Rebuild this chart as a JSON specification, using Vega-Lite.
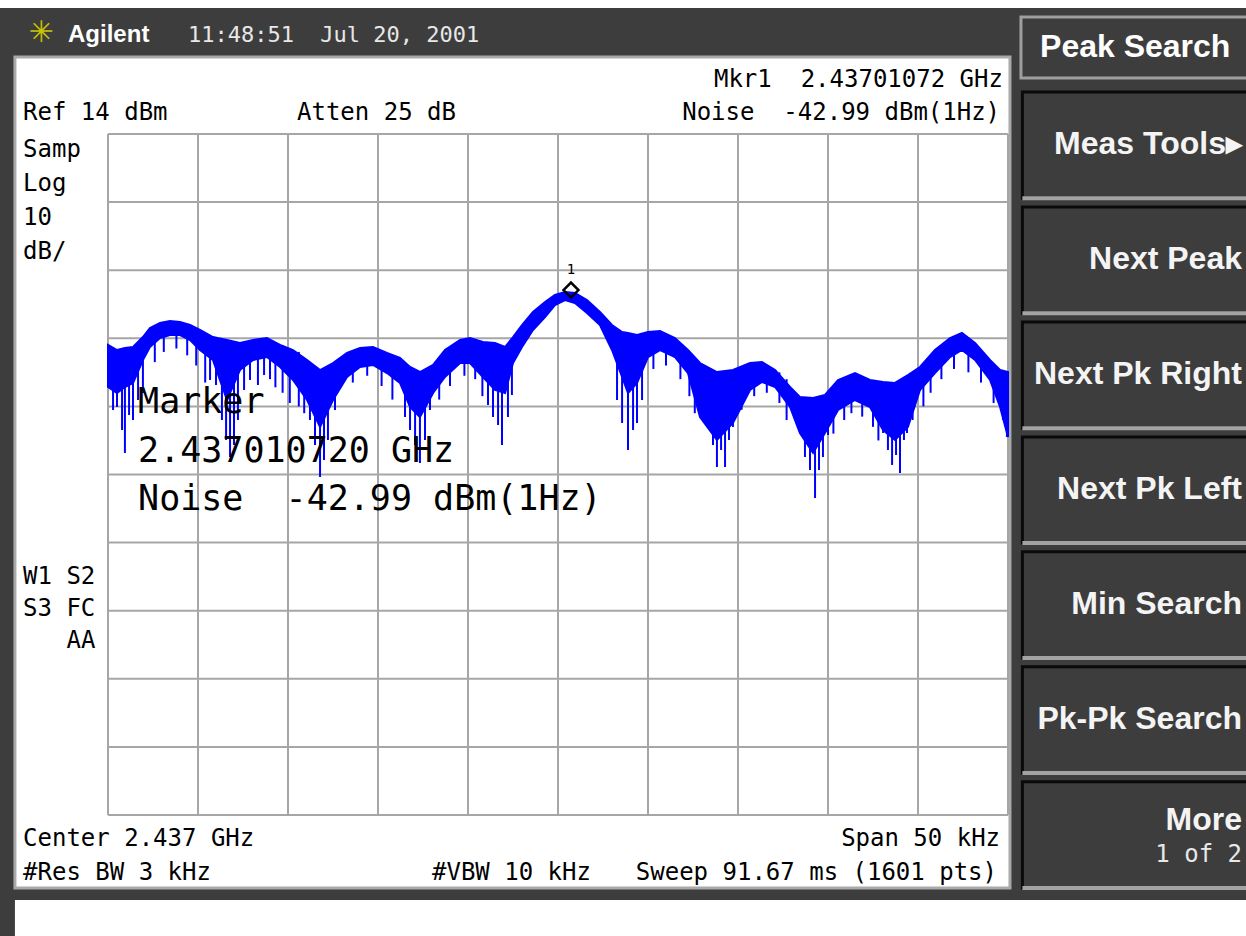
{
  "$schema": "https://vega.github.io/schema/vega-lite/v6.json",
  "width": 1246,
  "height": 936,
  "autosize": {"type": "none"},
  "padding": 0,
  "background": "#3d3d3d",
  "config": {
    "view": {"stroke": null},
    "axis": {"disable": true},
    "text": {"font": "DejaVu Sans Mono", "fontSize": 24, "color": "#000000", "baseline": "alphabetic", "align": "left"}
  },
  "datasets": {
    "gridx": [{"f": -25}, {"f": -20}, {"f": -15}, {"f": -10}, {"f": -5}, {"f": 0}, {"f": 5}, {"f": 10}, {"f": 15}, {"f": 20}, {"f": 25}],
    "gridy": [{"db": 14}, {"db": 4}, {"db": -6}, {"db": -16}, {"db": -26}, {"db": -36}, {"db": -46}, {"db": -56}, {"db": -66}, {"db": -76}, {"db": -86}],
    "trace": [
      {"f": -25, "hi": -16.98, "lo": -23.15},
      {"f": -24.5, "hi": -17.72, "lo": -24.03},
      {"f": -24.06, "hi": -17.42, "lo": -23.15},
      {"f": -23.61, "hi": -17.28, "lo": -22.56},
      {"f": -23.06, "hi": -15.81, "lo": -19.19},
      {"f": -22.67, "hi": -14.49, "lo": -17.28},
      {"f": -22.11, "hi": -13.75, "lo": -15.96},
      {"f": -21.56, "hi": -13.46, "lo": -15.52},
      {"f": -21, "hi": -13.61, "lo": -15.52},
      {"f": -20.44, "hi": -14.05, "lo": -16.25},
      {"f": -19.89, "hi": -14.78, "lo": -17.72},
      {"f": -19.17, "hi": -15.81, "lo": -19.19},
      {"f": -18.39, "hi": -16.25, "lo": -25.06},
      {"f": -17.67, "hi": -16.69, "lo": -20.66},
      {"f": -16.94, "hi": -16.25, "lo": -19.19},
      {"f": -16.17, "hi": -15.96, "lo": -18.75},
      {"f": -15.44, "hi": -16.98, "lo": -20.21},
      {"f": -14.72, "hi": -17.72, "lo": -22.12},
      {"f": -13.94, "hi": -19.19, "lo": -25.06},
      {"f": -13.22, "hi": -20.66, "lo": -29.02},
      {"f": -12.5, "hi": -19.63, "lo": -25.06},
      {"f": -11.72, "hi": -18.16, "lo": -21.68},
      {"f": -11, "hi": -17.42, "lo": -20.21},
      {"f": -10.28, "hi": -17.28, "lo": -19.92},
      {"f": -9.5, "hi": -18.16, "lo": -21.1},
      {"f": -8.78, "hi": -18.89, "lo": -22.56},
      {"f": -8.22, "hi": -20.21, "lo": -26.09},
      {"f": -7.67, "hi": -20.95, "lo": -27.56},
      {"f": -6.94, "hi": -19.92, "lo": -24.03},
      {"f": -6.28, "hi": -17.72, "lo": -21.68},
      {"f": -5.44, "hi": -16.25, "lo": -19.63},
      {"f": -4.89, "hi": -15.96, "lo": -19.63},
      {"f": -4.17, "hi": -16.54, "lo": -21.68},
      {"f": -3.5, "hi": -16.69, "lo": -23.59},
      {"f": -2.94, "hi": -17.28, "lo": -24.03},
      {"f": -2.5, "hi": -15.81, "lo": -19.63},
      {"f": -2, "hi": -14.05, "lo": -17.28},
      {"f": -1.39, "hi": -12.14, "lo": -14.78},
      {"f": -0.72, "hi": -10.67, "lo": -12.87},
      {"f": -0.17, "hi": -9.64, "lo": -11.11},
      {"f": 0.39, "hi": -9.2, "lo": -10.38},
      {"f": 0.94, "hi": -9.35, "lo": -10.82},
      {"f": 1.61, "hi": -10.38, "lo": -12.28},
      {"f": 2.33, "hi": -12.14, "lo": -14.05},
      {"f": 3, "hi": -14.05, "lo": -17.72},
      {"f": 3.56, "hi": -15.07, "lo": -21.68},
      {"f": 3.89, "hi": -15.22, "lo": -24.03},
      {"f": 4.39, "hi": -15.52, "lo": -22.56},
      {"f": 5, "hi": -15.07, "lo": -18.75},
      {"f": 5.67, "hi": -14.93, "lo": -17.72},
      {"f": 6.5, "hi": -15.96, "lo": -18.75},
      {"f": 7.22, "hi": -17.72, "lo": -21.1},
      {"f": 7.89, "hi": -19.63, "lo": -27.56},
      {"f": 8.83, "hi": -20.95, "lo": -30.93},
      {"f": 9.72, "hi": -20.66, "lo": -28.44},
      {"f": 10.67, "hi": -19.63, "lo": -23.59},
      {"f": 11.33, "hi": -19.48, "lo": -22.42},
      {"f": 12.06, "hi": -20.66, "lo": -23.15},
      {"f": 12.89, "hi": -23.15, "lo": -26.09},
      {"f": 13.44, "hi": -24.62, "lo": -29.91},
      {"f": 14.17, "hi": -24.77, "lo": -32.84},
      {"f": 14.83, "hi": -24.33, "lo": -29.91},
      {"f": 15.56, "hi": -22.12, "lo": -26.53},
      {"f": 16.5, "hi": -21.1, "lo": -25.06},
      {"f": 17.33, "hi": -22.12, "lo": -26.09},
      {"f": 18.06, "hi": -22.42, "lo": -29.47},
      {"f": 18.72, "hi": -22.56, "lo": -30.93},
      {"f": 19.44, "hi": -21.39, "lo": -29.02},
      {"f": 20.11, "hi": -20.21, "lo": -23.59},
      {"f": 20.94, "hi": -17.72, "lo": -21.1},
      {"f": 21.78, "hi": -15.96, "lo": -18.75},
      {"f": 22.44, "hi": -15.22, "lo": -17.72},
      {"f": 23.17, "hi": -16.69, "lo": -19.19},
      {"f": 24, "hi": -19.19, "lo": -22.12},
      {"f": 24.56, "hi": -20.66, "lo": -26.09},
      {"f": 25, "hi": -20.95, "lo": -30.49}
    ],
    "spikes": [
      {"f": -24.72, "top": -21, "bot": -26.53},
      {"f": -24.5, "top": -21, "bot": -26.09},
      {"f": -24.22, "top": -21, "bot": -29.47},
      {"f": -24.06, "top": -21, "bot": -32.84},
      {"f": -23.83, "top": -21, "bot": -27.26},
      {"f": -23.61, "top": -21, "bot": -28.0},
      {"f": -23.33, "top": -20, "bot": -25.06},
      {"f": -23.06, "top": -18, "bot": -24.03},
      {"f": -22.4, "top": -16, "bot": -19.5},
      {"f": -21.9, "top": -15, "bot": -18.0},
      {"f": -21.2, "top": -15, "bot": -17.5},
      {"f": -20.6, "top": -15, "bot": -18.5},
      {"f": -20.1, "top": -16, "bot": -20.0},
      {"f": -19.6, "top": -17, "bot": -22.5},
      {"f": -19.33, "top": -18, "bot": -22.12},
      {"f": -19.0, "top": -18, "bot": -22.86},
      {"f": -18.67, "top": -18, "bot": -28.0},
      {"f": -18.44, "top": -18, "bot": -30.93},
      {"f": -18.22, "top": -18, "bot": -33.43},
      {"f": -18.0, "top": -18, "bot": -31.67},
      {"f": -17.78, "top": -18, "bot": -28.0},
      {"f": -17.44, "top": -18, "bot": -23.59},
      {"f": -17.11, "top": -18, "bot": -22.12},
      {"f": -16.67, "top": -18, "bot": -22.86},
      {"f": -16.33, "top": -18, "bot": -21.39},
      {"f": -16.0, "top": -17, "bot": -22.0},
      {"f": -15.7, "top": -17, "bot": -23.2},
      {"f": -15.3, "top": -17, "bot": -24.0},
      {"f": -14.9, "top": -18, "bot": -25.5},
      {"f": -14.4, "top": -18, "bot": -26.0},
      {"f": -14.1, "top": -19, "bot": -27.0},
      {"f": -13.78, "top": -22, "bot": -28.0},
      {"f": -13.5, "top": -22, "bot": -31.67},
      {"f": -13.22, "top": -22, "bot": -36.37},
      {"f": -13.0, "top": -22, "bot": -33.87},
      {"f": -12.78, "top": -22, "bot": -30.93},
      {"f": -12.39, "top": -22, "bot": -26.53},
      {"f": -11.4, "top": -19, "bot": -22.5},
      {"f": -10.6, "top": -18, "bot": -21.5},
      {"f": -9.8, "top": -18, "bot": -23.0},
      {"f": -9.2, "top": -19, "bot": -25.0},
      {"f": -8.5, "top": -22, "bot": -27.56},
      {"f": -8.22, "top": -22, "bot": -29.47},
      {"f": -7.94, "top": -22, "bot": -31.67},
      {"f": -7.67, "top": -22, "bot": -34.31},
      {"f": -7.39, "top": -22, "bot": -30.93},
      {"f": -7.11, "top": -22, "bot": -26.53},
      {"f": -6.6, "top": -20, "bot": -25.0},
      {"f": -6.0, "top": -18, "bot": -23.0},
      {"f": -5.2, "top": -17, "bot": -21.5},
      {"f": -4.6, "top": -17, "bot": -22.0},
      {"f": -4.2, "top": -17, "bot": -24.5},
      {"f": -3.89, "top": -20, "bot": -25.79},
      {"f": -3.61, "top": -20, "bot": -27.56},
      {"f": -3.33, "top": -20, "bot": -28.73},
      {"f": -3.11, "top": -20, "bot": -31.67},
      {"f": -2.78, "top": -20, "bot": -27.56},
      {"f": -2.56, "top": -20, "bot": -24.33},
      {"f": 3.28, "top": -18, "bot": -25.06},
      {"f": 3.56, "top": -18, "bot": -28.44},
      {"f": 3.89, "top": -18, "bot": -32.4},
      {"f": 4.17, "top": -18, "bot": -29.47},
      {"f": 4.39, "top": -18, "bot": -28.44},
      {"f": 4.67, "top": -18, "bot": -25.06},
      {"f": 5.3, "top": -16, "bot": -20.5},
      {"f": 6.0, "top": -16, "bot": -20.0},
      {"f": 6.8, "top": -17, "bot": -22.0},
      {"f": 7.3, "top": -18, "bot": -24.5},
      {"f": 7.6, "top": -19, "bot": -27.0},
      {"f": 8.33, "top": -24, "bot": -29.02},
      {"f": 8.61, "top": -24, "bot": -31.67},
      {"f": 8.83, "top": -24, "bot": -34.9},
      {"f": 9.06, "top": -24, "bot": -32.4},
      {"f": 9.28, "top": -24, "bot": -34.9},
      {"f": 9.5, "top": -24, "bot": -30.93},
      {"f": 9.72, "top": -24, "bot": -29.02},
      {"f": 10.2, "top": -21, "bot": -26.5},
      {"f": 10.9, "top": -21, "bot": -24.5},
      {"f": 11.6, "top": -21, "bot": -24.0},
      {"f": 12.3, "top": -21, "bot": -25.5},
      {"f": 12.7, "top": -22, "bot": -28.0},
      {"f": 13.44, "top": -27, "bot": -29.47},
      {"f": 13.72, "top": -27, "bot": -33.43},
      {"f": 14.0, "top": -27, "bot": -35.34},
      {"f": 14.28, "top": -27, "bot": -39.45},
      {"f": 14.5, "top": -27, "bot": -35.34},
      {"f": 14.72, "top": -27, "bot": -33.43},
      {"f": 15.0, "top": -27, "bot": -30.2},
      {"f": 15.3, "top": -24, "bot": -30.0},
      {"f": 15.9, "top": -23, "bot": -28.0},
      {"f": 16.3, "top": -23, "bot": -27.0},
      {"f": 16.9, "top": -23, "bot": -27.5},
      {"f": 17.5, "top": -23, "bot": -29.0},
      {"f": 17.8, "top": -24, "bot": -31.0},
      {"f": 18.06, "top": -26, "bot": -29.91},
      {"f": 18.33, "top": -26, "bot": -32.4},
      {"f": 18.56, "top": -26, "bot": -34.6},
      {"f": 18.78, "top": -26, "bot": -33.14},
      {"f": 19.0, "top": -26, "bot": -35.78},
      {"f": 19.22, "top": -26, "bot": -30.93},
      {"f": 19.39, "top": -26, "bot": -29.91},
      {"f": 19.7, "top": -23, "bot": -28.0},
      {"f": 20.3, "top": -21, "bot": -26.0},
      {"f": 20.7, "top": -20, "bot": -24.0},
      {"f": 21.3, "top": -18, "bot": -22.0},
      {"f": 22.0, "top": -17, "bot": -20.5},
      {"f": 22.8, "top": -17, "bot": -21.0},
      {"f": 23.5, "top": -18, "bot": -22.5},
      {"f": 24.2, "top": -20, "bot": -25.5},
      {"f": 24.72, "top": -22, "bot": -28.0},
      {"f": 24.94, "top": -22, "bot": -30.49}
    ],
    "buttons": [
      {"label": "Meas Tools▸"},
      {"label": "Next Peak"},
      {"label": "Next Pk Right"},
      {"label": "Next Pk Left"},
      {"label": "Min Search"},
      {"label": "Pk-Pk Search"},
      {"label": "More", "sub": "1 of 2"}
    ]
  },
  "data": {"values": [{}]},
  "layer": [
    {
      "layer": [
        {
          "mark": {"type": "rect", "fill": "#ffffff"},
          "encoding": {
            "x": {"datum": -31, "type": "quantitative", "scale": {"domain": [-31, 38.2222], "nice": false, "zero": false}},
            "x2": {"datum": 38.6},
            "y": {"datum": 34, "type": "quantitative", "scale": {"domain": [-103.768, 33.677], "nice": false, "zero": false}},
            "y2": {"datum": 32.5}
          }
        },
        {
          "mark": {"type": "rect", "fill": "#ffffff"},
          "encoding": {
            "x": {"datum": -30.17, "type": "quantitative"},
            "x2": {"datum": 38.6},
            "y": {"datum": -98.48, "type": "quantitative"},
            "y2": {"datum": -104.5}
          }
        },
        {
          "mark": {"type": "rect", "fill": "#ffffff", "stroke": "#a9a9a9", "strokeWidth": 3},
          "encoding": {
            "x": {"datum": -30.17, "type": "quantitative"},
            "x2": {"datum": 25.11},
            "y": {"datum": 25.31, "type": "quantitative"},
            "y2": {"datum": -96.72}
          }
        },
        {
          "mark": {"type": "rect", "fill": "#3d3d3d", "stroke": "#9e9e9e", "strokeWidth": 3},
          "encoding": {
            "x": {"datum": 25.72, "type": "quantitative"},
            "x2": {"datum": 39.5},
            "y": {"datum": 31.18, "type": "quantitative"},
            "y2": {"datum": 22.22}
          }
        },
        {
          "data": {"name": "gridx"},
          "mark": {"type": "rule", "stroke": "#a6a6a6", "strokeWidth": 2},
          "encoding": {
            "x": {"field": "f", "type": "quantitative"},
            "y": {"datum": 14, "type": "quantitative"},
            "y2": {"datum": -86}
          }
        },
        {
          "data": {"name": "gridy"},
          "mark": {"type": "rule", "stroke": "#a6a6a6", "strokeWidth": 2},
          "encoding": {
            "y": {"field": "db", "type": "quantitative"},
            "x": {"datum": -25, "type": "quantitative"},
            "x2": {"datum": 25}
          }
        },
        {
          "data": {"name": "trace"},
          "mark": {"type": "area", "color": "#0000ff", "stroke": "#0000ff", "strokeWidth": 2, "opacity": 1},
          "encoding": {
            "x": {"field": "f", "type": "quantitative"},
            "y": {"field": "hi", "type": "quantitative"},
            "y2": {"field": "lo"}
          }
        },
        {
          "data": {"name": "spikes"},
          "mark": {"type": "rule", "stroke": "#0000ff", "strokeWidth": 2},
          "encoding": {
            "x": {"field": "f", "type": "quantitative"},
            "y": {"field": "top", "type": "quantitative"},
            "y2": {"field": "bot"}
          }
        },
        {
          "mark": {"type": "point", "shape": "diamond", "size": 225, "filled": false, "stroke": "#000000", "strokeWidth": 2.5, "opacity": 1},
          "encoding": {
            "x": {"datum": 0.72, "type": "quantitative"},
            "y": {"datum": -8.91, "type": "quantitative"}
          }
        },
        {
          "mark": {"type": "text", "text": "1", "align": "center", "fontSize": 14},
          "encoding": {"x": {"datum": 0.72, "type": "quantitative"}, "y": {"datum": -6.56, "type": "quantitative"}}
        },
        {
          "mark": {"type": "text", "text": "✳", "align": "center", "baseline": "middle", "fontSize": 30, "font": "DejaVu Sans", "color": "#c9c400"},
          "encoding": {"x": {"datum": -28.72, "type": "quantitative"}, "y": {"datum": 28.83, "type": "quantitative"}}
        },
        {
          "mark": {"type": "text", "text": "Agilent", "font": "Liberation Sans", "fontWeight": "bold", "fontSize": 24, "color": "#ffffff"},
          "encoding": {"x": {"datum": -27.22, "type": "quantitative"}, "y": {"datum": 27.51, "type": "quantitative"}}
        },
        {
          "mark": {"type": "text", "text": "11:48:51\u00a0 Jul 20, 2001", "fontSize": 22, "color": "#e8e8e8"},
          "encoding": {"x": {"datum": -20.56, "type": "quantitative"}, "y": {"datum": 27.51, "type": "quantitative"}}
        },
        {
          "mark": {"type": "text", "text": "Peak Search", "font": "Liberation Sans", "fontWeight": "bold", "fontSize": 32, "color": "#ffffff"},
          "encoding": {"x": {"datum": 26.78, "type": "quantitative"}, "y": {"datum": 25.31, "type": "quantitative"}}
        },
        {
          "mark": {"type": "text", "text": "Mkr1\u00a0 2.43701072 GHz", "align": "right"},
          "encoding": {"x": {"datum": 24.72, "type": "quantitative"}, "y": {"datum": 20.9, "type": "quantitative"}}
        },
        {
          "mark": {"type": "text", "text": "Ref 14 dBm"},
          "encoding": {"x": {"datum": -29.72, "type": "quantitative"}, "y": {"datum": 16.06, "type": "quantitative"}}
        },
        {
          "mark": {"type": "text", "text": "Atten 25 dB"},
          "encoding": {"x": {"datum": -14.5, "type": "quantitative"}, "y": {"datum": 16.06, "type": "quantitative"}}
        },
        {
          "mark": {"type": "text", "text": "Noise\u00a0 -42.99 dBm(1Hz)", "align": "right"},
          "encoding": {"x": {"datum": 24.56, "type": "quantitative"}, "y": {"datum": 16.06, "type": "quantitative"}}
        },
        {
          "mark": {"type": "text", "text": "Samp"},
          "encoding": {"x": {"datum": -29.72, "type": "quantitative"}, "y": {"datum": 10.62, "type": "quantitative"}}
        },
        {
          "mark": {"type": "text", "text": "Log"},
          "encoding": {"x": {"datum": -29.72, "type": "quantitative"}, "y": {"datum": 5.63, "type": "quantitative"}}
        },
        {
          "mark": {"type": "text", "text": "10"},
          "encoding": {"x": {"datum": -29.72, "type": "quantitative"}, "y": {"datum": 0.64, "type": "quantitative"}}
        },
        {
          "mark": {"type": "text", "text": "dB/"},
          "encoding": {"x": {"datum": -29.72, "type": "quantitative"}, "y": {"datum": -4.36, "type": "quantitative"}}
        },
        {
          "mark": {"type": "text", "text": "W1 S2"},
          "encoding": {"x": {"datum": -29.72, "type": "quantitative"}, "y": {"datum": -52.08, "type": "quantitative"}}
        },
        {
          "mark": {"type": "text", "text": "S3 FC"},
          "encoding": {"x": {"datum": -29.72, "type": "quantitative"}, "y": {"datum": -56.78, "type": "quantitative"}}
        },
        {
          "mark": {"type": "text", "text": "AA"},
          "encoding": {"x": {"datum": -27.3, "type": "quantitative"}, "y": {"datum": -61.48, "type": "quantitative"}}
        },
        {
          "mark": {"type": "text", "text": "Marker", "fontSize": 35},
          "encoding": {"x": {"datum": -23.33, "type": "quantitative"}, "y": {"datum": -26.97, "type": "quantitative"}}
        },
        {
          "mark": {"type": "text", "text": "2.437010720 GHz", "fontSize": 35},
          "encoding": {"x": {"datum": -23.33, "type": "quantitative"}, "y": {"datum": -34.16, "type": "quantitative"}}
        },
        {
          "mark": {"type": "text", "text": "Noise\u00a0 -42.99 dBm(1Hz)", "fontSize": 35},
          "encoding": {"x": {"datum": -23.33, "type": "quantitative"}, "y": {"datum": -41.21, "type": "quantitative"}}
        },
        {
          "mark": {"type": "text", "text": "Center 2.437 GHz"},
          "encoding": {"x": {"datum": -29.72, "type": "quantitative"}, "y": {"datum": -90.55, "type": "quantitative"}}
        },
        {
          "mark": {"type": "text", "text": "Span 50 kHz", "align": "right"},
          "encoding": {"x": {"datum": 24.56, "type": "quantitative"}, "y": {"datum": -90.55, "type": "quantitative"}}
        },
        {
          "mark": {"type": "text", "text": "#Res BW 3 kHz"},
          "encoding": {"x": {"datum": -29.72, "type": "quantitative"}, "y": {"datum": -95.54, "type": "quantitative"}}
        },
        {
          "mark": {"type": "text", "text": "#VBW 10 kHz"},
          "encoding": {"x": {"datum": -7.0, "type": "quantitative"}, "y": {"datum": -95.54, "type": "quantitative"}}
        },
        {
          "mark": {"type": "text", "text": "Sweep 91.67 ms (1601 pts)", "align": "right"},
          "encoding": {"x": {"datum": 24.39, "type": "quantitative"}, "y": {"datum": -95.54, "type": "quantitative"}}
        }
      ]
    },
    {
      "data": {"name": "buttons"},
      "encoding": {
        "y": {
          "field": "label",
          "type": "nominal",
          "sort": null,
          "scale": {
            "domain": ["Meas Tools▸", "Next Peak", "Next Pk Right", "Next Pk Left", "Min Search", "Pk-Pk Search", "More"],
            "range": [92, 888],
            "paddingInner": 0.076,
            "paddingOuter": 0
          }
        }
      },
      "layer": [
        {
          "mark": {"type": "rect", "fill": "#3d3d3d", "stroke": "#0a0a0a", "strokeWidth": 3},
          "encoding": {"x": {"datum": 25.8, "type": "quantitative"}, "x2": {"datum": 39.5}}
        },
        {
          "mark": {"type": "rule", "stroke": "#a3a3a3", "strokeWidth": 4},
          "encoding": {
            "x": {"datum": 25.8, "type": "quantitative"},
            "x2": {"datum": 39.5},
            "y": {"field": "label", "type": "nominal", "sort": null, "bandPosition": 1}
          }
        },
        {
          "transform": [{"filter": "datum.label !== 'More'"}],
          "mark": {"type": "text", "align": "right", "dy": 9, "font": "Liberation Sans", "fontWeight": "bold", "fontSize": 32, "color": "#f4f4f4"},
          "encoding": {"x": {"datum": 38.0, "type": "quantitative"}, "text": {"field": "label"}}
        },
        {
          "transform": [{"filter": "datum.label === 'More'"}],
          "mark": {"type": "text", "align": "right", "dy": -5, "font": "Liberation Sans", "fontWeight": "bold", "fontSize": 32, "color": "#f4f4f4"},
          "encoding": {"x": {"datum": 38.0, "type": "quantitative"}, "text": {"field": "label"}}
        },
        {
          "transform": [{"filter": "datum.sub"}],
          "mark": {"type": "text", "align": "right", "dy": 27, "fontSize": 24, "color": "#e8e8e8"},
          "encoding": {"x": {"datum": 38.0, "type": "quantitative"}, "text": {"field": "sub"}}
        }
      ]
    }
  ],
  "resolve": {"scale": {"y": "independent"}}
}
